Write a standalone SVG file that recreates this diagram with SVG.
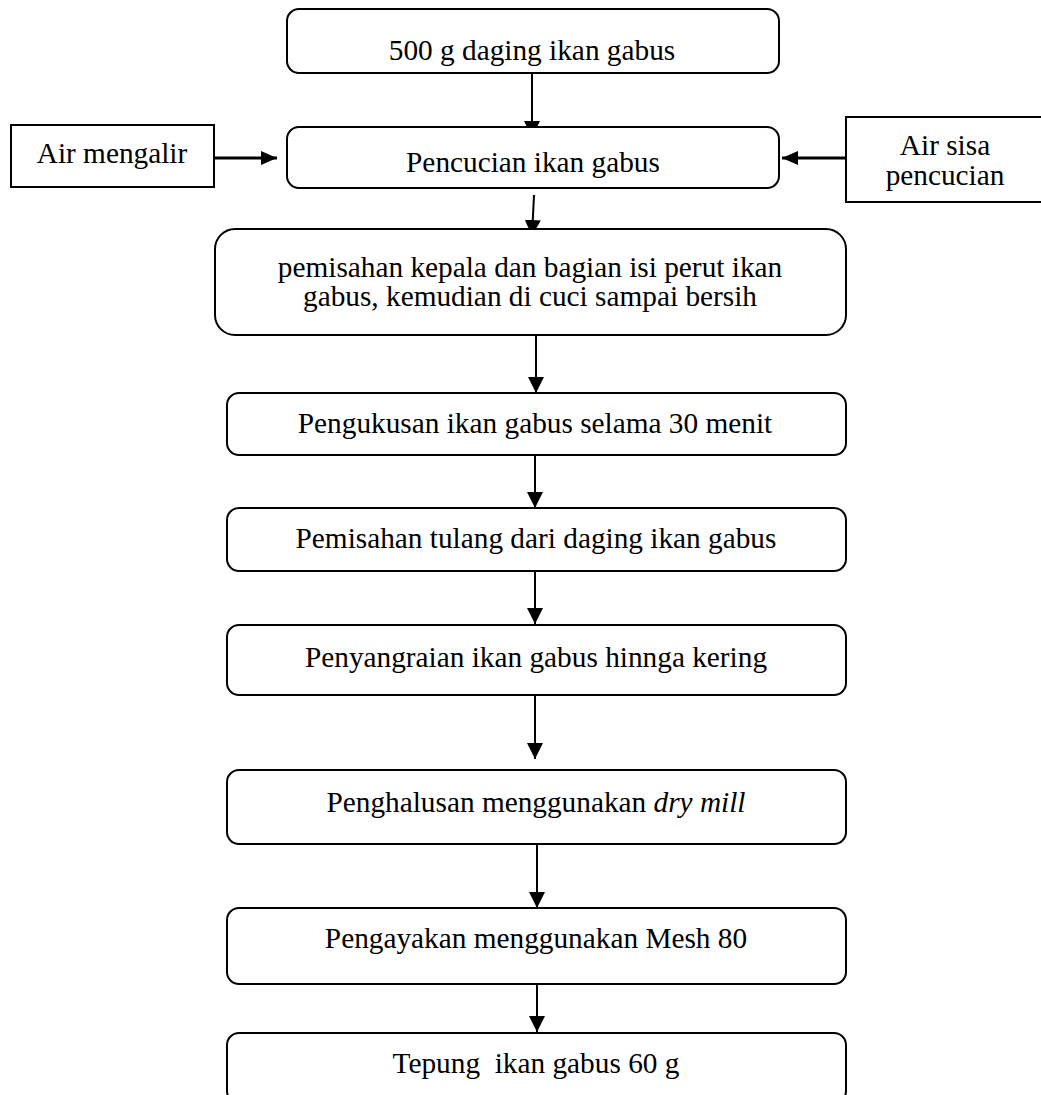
<svg xmlns="http://www.w3.org/2000/svg" width="1041" height="1095" viewBox="0 0 1041 1095">
<style>
.box{fill:#fff;stroke:#000;stroke-width:2}
.t{font-family:"Liberation Serif","Times New Roman",serif;font-size:29.3px;fill:#000;text-anchor:middle}
.c{stroke:#000;stroke-width:2;fill:none;marker-end:url(#ah)}
.cb{stroke:#000;stroke-width:3;fill:none;marker-end:url(#ah2)}
</style>
<defs>
<marker id="ah" markerUnits="userSpaceOnUse" viewBox="0 0 16 16" refX="16" refY="8" markerWidth="16" markerHeight="16" orient="auto">
<path d="M0,0 L16,8 L0,16 Z" fill="#000"/>
</marker>
<marker id="ah2" markerUnits="userSpaceOnUse" viewBox="0 0 16 16" refX="16" refY="8" markerWidth="16" markerHeight="16" orient="auto">
<path d="M0,1 L16,8 L0,15 Z" fill="#000"/>
</marker>
</defs>
<rect width="1041" height="1095" fill="#fff"/>
<g id="connectors">
<line class="c" x1="532" y1="73" x2="532" y2="137"/>
<line class="cb" x1="214" y1="158" x2="277" y2="158"/>
<line class="cb" x1="846" y1="158" x2="782" y2="158"/>
<line class="c" x1="534" y1="195" x2="532" y2="236"/>
<line class="c" x1="536" y1="335" x2="536" y2="393"/>
<line class="c" x1="535" y1="455" x2="535" y2="508"/>
<line class="c" x1="535" y1="571" x2="535" y2="624"/>
<line class="c" x1="535" y1="695" x2="535" y2="759"/>
<line class="c" x1="537" y1="844" x2="537" y2="908"/>
<line class="c" x1="537" y1="984" x2="537" y2="1032"/>
</g>
<g id="n1"><rect class="box" x="287" y="9" width="492" height="64" rx="12"/><text class="t" x="532" y="60">500 g daging ikan gabus</text></g>
<g id="n2"><rect class="box" x="287" y="127" width="492" height="61" rx="12"/><text class="t" x="533" y="172">Pencucian ikan gabus</text></g>
<g id="in1"><rect class="box" x="11" y="125" width="203" height="62"/><text class="t" x="112" y="163">Air mengalir</text></g>
<g id="out1"><rect class="box" x="846" y="117" width="200" height="85"/><text class="t" x="945" y="155">Air sisa</text><text class="t" x="945" y="185">pencucian</text></g>
<g id="n3"><rect class="box" x="215" y="229" width="631" height="106" rx="20"/><text class="t" x="530" y="277">pemisahan kepala dan bagian isi perut ikan</text><text class="t" x="530" y="306">gabus, kemudian di cuci sampai bersih</text></g>
<g id="n4"><rect class="box" x="227" y="393" width="619" height="62" rx="12"/><text class="t" x="535" y="433">Pengukusan ikan gabus selama 30 menit</text></g>
<g id="n5"><rect class="box" x="227" y="508" width="619" height="63" rx="12"/><text class="t" x="536" y="548">Pemisahan tulang dari daging ikan gabus</text></g>
<g id="n6"><rect class="box" x="227" y="625" width="619" height="70" rx="12"/><text class="t" x="536" y="667">Penyangraian ikan gabus hinnga kering</text></g>
<g id="n7"><rect class="box" x="227" y="770" width="619" height="74" rx="12"/><text class="t" x="536" y="812">Penghalusan menggunakan <tspan font-style="italic">dry mill</tspan></text></g>
<g id="n8"><rect class="box" x="227" y="908" width="619" height="76" rx="12"/><text class="t" x="536" y="948">Pengayakan menggunakan Mesh 80</text></g>
<g id="n9"><rect class="box" x="227" y="1033" width="619" height="70" rx="12"/><text class="t" x="536" y="1073" xml:space="preserve">Tepung  ikan gabus 60 g</text></g>
</svg>
